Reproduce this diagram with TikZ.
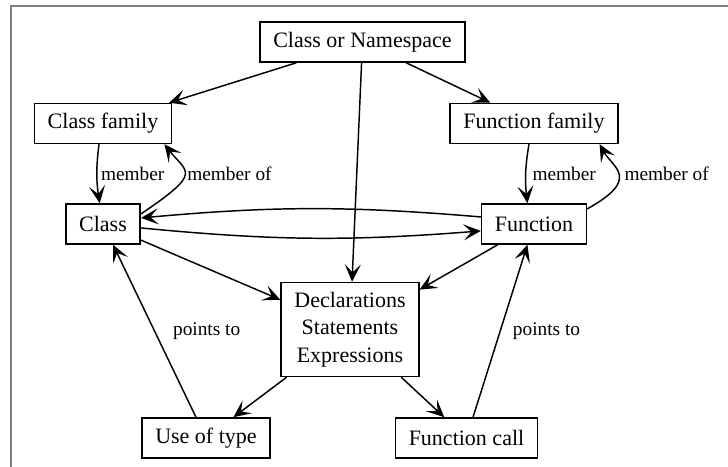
\documentclass[tikz,border=0pt]{standalone}
\usepackage{fontspec}
\setmainfont{Liberation Serif}
\usepackage{tikz}
\usetikzlibrary{arrows.meta,positioning}

\begin{document}
\begin{tikzpicture}[
  >={Stealth[length=13pt,width=12pt,inset=6pt]}, line width=1.1pt,
  box/.style={draw,line width=1.1pt,inner xsep=10pt,minimum height=30pt,font=\fontsize{16.5}{20.6}\selectfont},
  lbl/.style={font=\fontsize{14.5}{17}\selectfont,inner sep=1.5pt}]
% page and frame
\useasboundingbox (-271.875pt,-318.75pt) rectangle (274.125pt,31.5pt);
\clip (-271.875pt,-318.75pt) rectangle (274.125pt,31.5pt);
\draw[gray,line width=1.5pt] (-263.6pt,27pt) rectangle (300pt,-340pt);
% top
\node[box] (ns) {Class or Namespace};
% families
\node[box,below=30pt of ns,xshift=-194.6pt] (cfam) {Class family};
\node[box,below=30pt of ns,xshift=128.6pt] (ffam) {Function family};
% class and function
\node[box,below=44.25pt of cfam] (cls) {Class};
\node[box,below=44.25pt of ffam] (fn) {Function};
% body
\node[box,align=center,minimum height=70.5pt,below=164.25pt of ns,xshift=-9.4pt] (decl) {Declarations\\Statements\\Expressions};
% uses
\node[box,below=30pt of decl,xshift=-108pt] (use) {Use of type};
\node[box,below=30pt of decl,xshift=87.4pt] (call) {Function call};
\foreach \x/\y in {ns/cfam,ns/ffam,ns/decl,cls/decl,fn/decl,decl/use,decl/call} \draw[->] (\x)--(\y);
% membership
\draw[->] ([xshift=-3pt]cfam.south) to[bend right=8] node[lbl,right=1pt] {member} ([xshift=-2.5pt]cls.north);
\draw[->] ([yshift=7.5pt]cls.east) .. controls +(34:56.6pt) and +(-52:27.5pt) .. node[lbl,right=0pt] {member of} ([xshift=-6pt]cfam.south east);
\draw[->] ([xshift=-3.75pt]ffam.south) to[bend right=8] node[lbl,right=3pt] {member} ([xshift=-4.9pt]fn.north);
\draw[->] ([yshift=11.25pt]fn.east) .. controls +(29:47pt) and +(-61:20pt) .. node[lbl,right=2.25pt] {member of} ([xshift=-14.25pt]ffam.south east);
% class <-> function
\draw[->] ([yshift=5.25pt]fn.west) to[bend right=5] ([yshift=4.5pt]cls.east);
\draw[->] ([yshift=-3pt]cls.east) to[bend right=5] ([yshift=-5.25pt]fn.west);
% back references
\draw[->] (use)--(cls) node[lbl,midway,right=11.9pt] {points to};
\draw[->] (call)--(fn) node[lbl,midway,right=7.5pt] {points to};
\end{tikzpicture}
\end{document}
